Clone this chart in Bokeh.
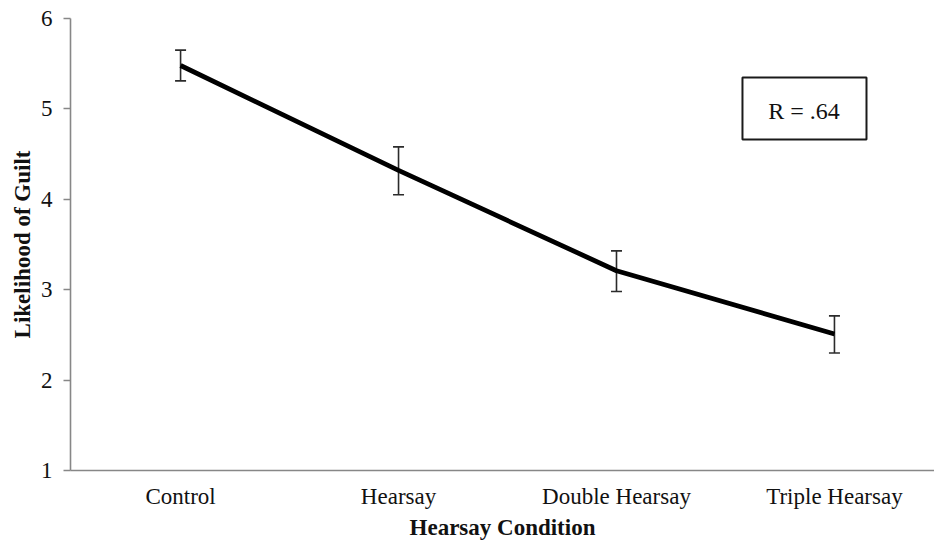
from bokeh.plotting import figure
from bokeh.models import Range1d, FixedTicker, Whisker, ColumnDataSource, Label, BoxAnnotation, TeeHead
from bokeh.embed import file_html
from bokeh.resources import INLINE

conditions = ["Control", "Hearsay", "Double Hearsay", "Triple Hearsay"]
positions = [0, 1, 2, 3]
means = [5.48, 4.32, 3.21, 2.51]
upper = [5.65, 4.58, 3.43, 2.71]
lower = [5.31, 4.05, 2.98, 2.30]
y_ticks = [1, 2, 3, 4, 5, 6]
r_text = "R = .64"

FONT = "Liberation Serif"
AXIS_GRAY = "#878787"

p = figure(width=934, height=543, output_backend="svg", toolbar_location=None,
           x_range=Range1d(-0.505, 3.459), y_range=Range1d(1, 6),
           min_border_left=70, min_border_right=0, min_border_top=18, min_border_bottom=73)
p.outline_line_color = None
p.xgrid.visible = False
p.ygrid.visible = False

src = ColumnDataSource(dict(x=positions, mean=means, upper=upper, lower=lower))

w = Whisker(source=src, base="x", upper="upper", lower="lower",
            line_color="#2b2b2b", line_width=1.6,
            upper_head=TeeHead(size=11, line_color="#2b2b2b", line_width=1.6),
            lower_head=TeeHead(size=11, line_color="#2b2b2b", line_width=1.6))
p.add_layout(w)
p.line("x", "mean", source=src, line_color="black", line_width=4.8)

# x axis
xa = p.xaxis[0]
xa.ticker = FixedTicker(ticks=positions)
xa.major_label_overrides = {i: c for i, c in zip(positions, conditions)}
xa.major_tick_out = 0
xa.major_tick_in = 0
xa.minor_tick_out = 0
xa.minor_tick_in = 0
xa.axis_line_color = AXIS_GRAY
xa.axis_line_width = 1.6
xa.major_label_text_font = FONT
xa.major_label_text_font_size = "23px"
xa.major_label_text_color = "#111111"
xa.major_label_standoff = 13
xa.axis_label = "Hearsay Condition"
xa.axis_label_text_font = FONT
xa.axis_label_text_font_style = "bold"
xa.axis_label_text_font_size = "23px"
xa.axis_label_text_color = "#111111"
xa.axis_label_standoff = 3

# y axis
ya = p.yaxis[0]
ya.ticker = FixedTicker(ticks=y_ticks)
ya.major_tick_out = 7
ya.major_tick_in = 0
ya.minor_tick_out = 0
ya.minor_tick_in = 0
ya.major_tick_line_color = AXIS_GRAY
ya.major_tick_line_width = 1.6
ya.axis_line_color = AXIS_GRAY
ya.axis_line_width = 1.6
ya.major_label_text_font = FONT
ya.major_label_text_font_size = "23px"
ya.major_label_text_color = "#111111"
ya.major_label_standoff = 11
ya.axis_label = "Likelihood of Guilt"
ya.axis_label_text_font = FONT
ya.axis_label_text_font_style = "bold"
ya.axis_label_text_font_size = "23px"
ya.axis_label_text_color = "#111111"
ya.axis_label_standoff = 3

# R box
box = BoxAnnotation(left=2.578, right=3.147, top=5.347, bottom=4.661,
                    fill_color="white", fill_alpha=1.0,
                    line_color="#1a1a1a", line_alpha=1.0, line_width=2)
p.add_layout(box)
lab = Label(x=2.86, y=4.982, text=r_text, text_align="center", text_baseline="alphabetic",
            text_font=FONT, text_font_size="24px", text_color="#111111")
p.add_layout(lab)

open("out.html", "w").write(file_html(p, INLINE))
